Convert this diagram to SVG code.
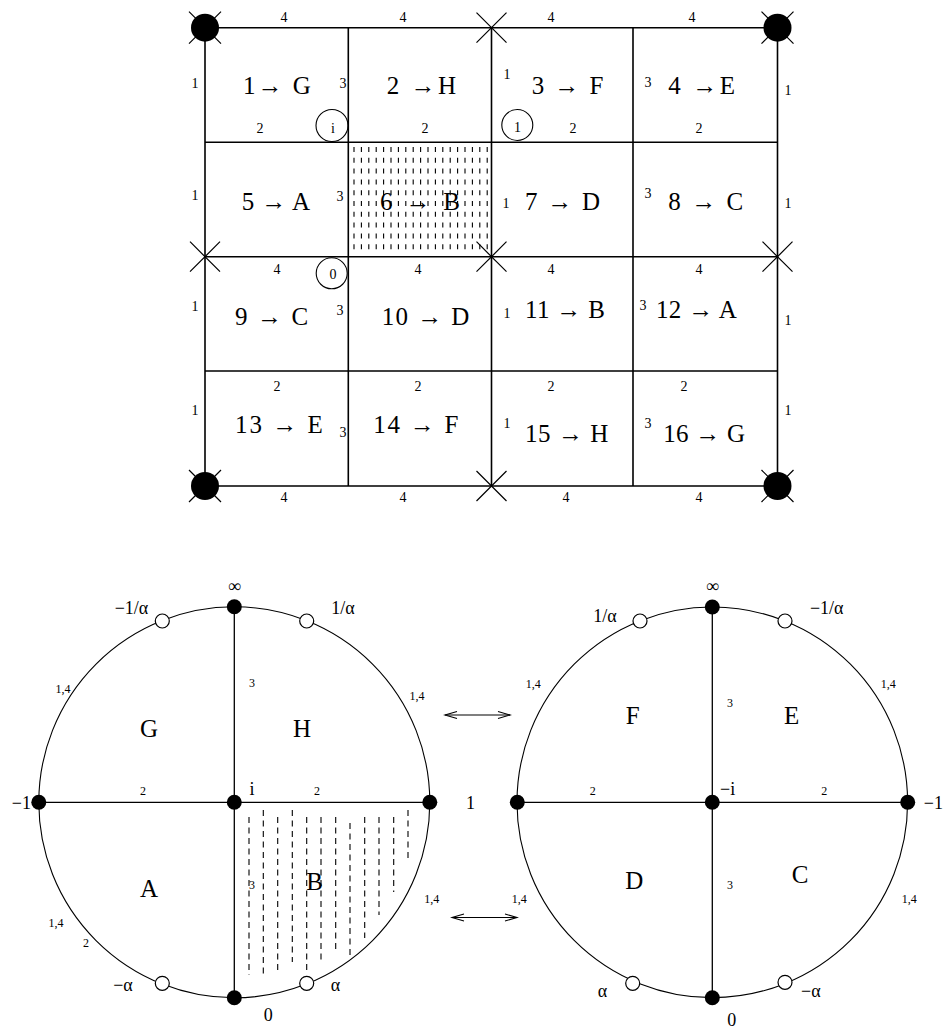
<svg xmlns="http://www.w3.org/2000/svg" xmlns:xlink="http://www.w3.org/1999/xlink" width="945" height="1028" viewBox="0 0 945 1028">
<style>
.ln{stroke:#000;stroke-width:1.6;fill:none}
.xl{stroke:#000;stroke-width:1.2;fill:none}
.cl{stroke:#000;stroke-width:1.1;fill:none}
.rl{stroke:#000;stroke-width:1.3;fill:none}
.hatch{stroke:#000;stroke-width:1.1;fill:none;stroke-dasharray:5 5.8}
.hatch2{stroke:#000;stroke-width:1.1;fill:none;stroke-dasharray:6 4.5}
.big{font-family:"Liberation Serif","Times New Roman",serif;font-size:25px;fill:#000}
.sm{font-family:"Liberation Serif","Times New Roman",serif;font-size:14px;text-anchor:middle;fill:#000}
.md{font-family:"Liberation Serif","Times New Roman",serif;font-size:18px;text-anchor:middle;fill:#000}
.ti{font-family:"Liberation Serif","Times New Roman",serif;font-size:12px;text-anchor:middle;fill:#000}
.lt{font-family:"Liberation Serif","Times New Roman",serif;font-size:25px;text-anchor:middle;fill:#000}
.open{fill:#fff;stroke:#000;stroke-width:1.2}
.dot{fill:#000}
.ring{fill:none;stroke:#000;stroke-width:1.1}
.arr{stroke:#000;stroke-width:1.1;fill:none;marker-start:url(#ah);marker-end:url(#ah)}
</style>
<defs>
<path id="xm" d="M-15,-15L15,15M-15,15L15,-15" class="xl"/>
<g id="corner"><path d="M-16,-16L16,16M-16,16L16,-16" class="xl"/><circle r="14" class="dot"/></g>
<marker id="ah" viewBox="-14 -5 16 10" refX="0" refY="0" markerWidth="16" markerHeight="10" markerUnits="userSpaceOnUse" orient="auto-start-reverse">
<path d="M-12,-3.5L0,0L-12,3.5" fill="none" stroke="#000" stroke-width="1.1"/>
</marker>
</defs>

<g id="grid">
<g id="hatch-6">
<path class="hatch" d="M354,147V252M361.4,147V252M368.8,147V252M376.2,147V252M383.6,147V252M391,147V252M398.4,147V252M405.8,147V252M413.2,147V252M420.6,147V252M428,147V252M435.4,147V252M442.8,147V252M450.2,147V252M457.6,147V252M465,147V252M472.4,147V252M479.8,147V252M487.2,147V252"/>
</g>
<g id="grid-lines">
<path class="ln" d="M205,27.7H777.5M205,142.3H777.5M205,256.7H777.5M205,371H777.5M205,486H777.5"/>
<path class="ln" d="M205,27.7V486M348.3,27.7V486M491.5,27.7V486M633,27.7V486M777.5,27.7V486"/>
</g>
<g id="vertex-marks">
<use xlink:href="#corner" x="205" y="27.7"/>
<use xlink:href="#corner" x="777.5" y="27.7"/>
<use xlink:href="#corner" x="205" y="486"/>
<use xlink:href="#corner" x="777.5" y="486"/>
<use xlink:href="#xm" x="491.5" y="27.7"/>
<use xlink:href="#xm" x="205" y="256.7"/>
<use xlink:href="#xm" x="491.5" y="256.7"/>
<use xlink:href="#xm" x="777.5" y="256.7"/>
<use xlink:href="#xm" x="491.5" y="486"/>
</g>
<g id="edge-labels">
<text class="sm" x="284" y="22">4</text><text class="sm" x="403" y="22">4</text><text class="sm" x="551" y="22">4</text><text class="sm" x="692" y="22">4</text>
<text class="sm" x="195" y="88">1</text><text class="sm" x="343" y="88">3</text><text class="sm" x="507" y="79">1</text><text class="sm" x="648" y="87">3</text><text class="sm" x="788" y="95">1</text>
<text class="sm" x="260" y="133">2</text><text class="sm" x="425" y="133">2</text><text class="sm" x="573" y="133">2</text><text class="sm" x="699" y="133">2</text>
<text class="sm" x="195" y="200">1</text><text class="sm" x="340" y="201">3</text><text class="sm" x="506" y="208">1</text><text class="sm" x="648" y="198">3</text><text class="sm" x="788" y="208">1</text>
<text class="sm" x="277" y="274">4</text><text class="sm" x="418" y="274">4</text><text class="sm" x="551" y="274">4</text><text class="sm" x="699" y="274">4</text>
<text class="sm" x="195" y="311">1</text><text class="sm" x="340" y="315">3</text><text class="sm" x="507" y="318">1</text><text class="sm" x="643" y="310">3</text><text class="sm" x="788" y="325">1</text>
<text class="sm" x="277" y="391">2</text><text class="sm" x="418" y="391">2</text><text class="sm" x="551" y="391">2</text><text class="sm" x="684" y="391">2</text>
<text class="sm" x="195" y="415">1</text><text class="sm" x="343" y="437">3</text><text class="sm" x="507" y="428">1</text><text class="sm" x="648" y="428">3</text><text class="sm" x="788" y="415">1</text>
<text class="sm" x="284" y="502">4</text><text class="sm" x="403" y="502">4</text><text class="sm" x="566" y="502">4</text><text class="sm" x="699" y="502">4</text>
</g>
<g id="point-i"><circle class="ring" cx="332" cy="125.5" r="16"/><text class="sm" x="333" y="133">i</text></g>
<g id="point-1"><circle class="ring" cx="517.3" cy="125" r="15.5"/><text class="sm" x="517.5" y="132">1</text></g>
<g id="point-0"><circle class="ring" cx="331.7" cy="273.3" r="15.5"/><text class="sm" x="333" y="279">0</text></g>
<g id="cells">
<text id="cell-1" class="big" x="243" y="94" textLength="67.7">1→ G</text>
<text id="cell-2" class="big" x="386.7" y="94" textLength="69.3">2 →H</text>
<text id="cell-3" class="big" x="531.7" y="94" textLength="71.6">3 → F</text>
<text id="cell-4" class="big" x="668.3" y="94" textLength="66.7">4 →E</text>
<text id="cell-5" class="big" x="241.7" y="209.5" textLength="68.3">5 → A</text>
<text id="cell-6" class="big" x="380" y="209.5" textLength="80">6 → B</text>
<text id="cell-7" class="big" x="525" y="209.5" textLength="75">7 → D</text>
<text id="cell-8" class="big" x="668.3" y="209.5" textLength="75">8 → C</text>
<text id="cell-9" class="big" x="235" y="325" textLength="73.3">9 → C</text>
<text id="cell-10" class="big" x="381.7" y="325" textLength="87.6">10 → D</text>
<text id="cell-11" class="big" x="525" y="318" textLength="80">11 → B</text>
<text id="cell-12" class="big" x="656" y="318" textLength="80.7">12 → A</text>
<text id="cell-13" class="big" x="235" y="433.3" textLength="87.7">13 → E</text>
<text id="cell-14" class="big" x="373.3" y="433.3" textLength="85">14 → F</text>
<text id="cell-15" class="big" x="525" y="441.5" textLength="83.3">15 → H</text>
<text id="cell-16" class="big" x="663.3" y="441.5" textLength="81.7">16 → G</text>
</g>
</g>

<g id="disk-left">
<path class="hatch2" d="M249,817V975M263.3,810V975M277.7,817V973M292.3,810V962M306.7,817V973M321,817V962M335.7,817V952M350,823V955M364.7,817V938M379,817V915M393.7,817V892M408,810V862"/>
<circle class="cl" cx="234.3" cy="802.3" r="195.5"/>
<path class="rl" d="M234.3,606.8V997.8M38.8,802.3H429.8"/>
<circle class="dot" cx="234.3" cy="606.8" r="7.5"/>
<circle class="dot" cx="38.8" cy="802.3" r="7.5"/>
<circle class="dot" cx="234.3" cy="802.3" r="7.5"/>
<circle class="dot" cx="429.8" cy="802.3" r="7.5"/>
<circle class="dot" cx="234.3" cy="997.8" r="7.5"/>
<circle class="open" cx="162.3" cy="621" r="7"/>
<circle class="open" cx="306.7" cy="621" r="7"/>
<circle class="open" cx="162.3" cy="983.3" r="7"/>
<circle class="open" cx="306.7" cy="983.3" r="7"/>
<text class="md" x="234.3" y="592">∞</text>
<text class="md" x="131.5" y="614">−1/α</text>
<text class="md" x="343" y="614">1/α</text>
<text class="ti" x="63" y="693">1,4</text>
<text class="ti" x="252" y="687">3</text>
<text class="ti" x="417" y="700">1,4</text>
<text class="lt" x="149" y="737">G</text>
<text class="lt" x="302" y="737">H</text>
<text class="ti" x="143" y="795">2</text>
<text class="md" x="252" y="795">i</text>
<text class="ti" x="317" y="795">2</text>
<text class="md" x="31" y="809" style="text-anchor:end">−1</text>
<text class="md" x="470.5" y="809">1</text>
<text class="lt" x="149" y="897">A</text>
<text class="lt" x="314.7" y="889.5">B</text>
<text class="ti" x="252" y="889">3</text>
<text class="ti" x="431.7" y="903">1,4</text>
<text class="ti" x="56" y="927">1,4</text>
<text class="ti" x="86" y="947">2</text>
<text class="md" x="123" y="991">−α</text>
<text class="md" x="335.5" y="991">α</text>
<text class="md" x="268.3" y="1020.5">0</text>
</g>

<g id="disk-right">
<circle class="cl" cx="712.3" cy="802.3" r="195.3"/>
<path class="rl" d="M712.3,607V997.6M517,802.3H907.6"/>
<circle class="dot" cx="712.3" cy="607" r="7.5"/>
<circle class="dot" cx="517.3" cy="802.3" r="7.5"/>
<circle class="dot" cx="712.3" cy="802.3" r="7.5"/>
<circle class="dot" cx="907.7" cy="802.3" r="7.5"/>
<circle class="dot" cx="712.3" cy="997.7" r="7.5"/>
<circle class="open" cx="640" cy="621" r="7"/>
<circle class="open" cx="785" cy="621" r="7"/>
<circle class="open" cx="632.7" cy="983.3" r="7"/>
<circle class="open" cx="785" cy="982.3" r="7"/>
<text class="md" x="712.3" y="592">∞</text>
<text class="md" x="605" y="622">1/α</text>
<text class="md" x="826.7" y="614">−1/α</text>
<text class="ti" x="533.3" y="688">1,4</text>
<text class="ti" x="730" y="707">3</text>
<text class="ti" x="888.3" y="688">1,4</text>
<text class="lt" x="632.7" y="724">F</text>
<text class="lt" x="791.7" y="724">E</text>
<text class="ti" x="592.7" y="795">2</text>
<text class="md" x="727.7" y="795">−i</text>
<text class="ti" x="824.3" y="795">2</text>
<text class="md" x="943" y="809" style="text-anchor:end">−1</text>
<text class="lt" x="634.3" y="889.3">D</text>
<text class="lt" x="800" y="882.7">C</text>
<text class="ti" x="730" y="889">3</text>
<text class="ti" x="519.3" y="903">1,4</text>
<text class="ti" x="909.3" y="903">1,4</text>
<text class="md" x="602.5" y="997">α</text>
<text class="md" x="810.8" y="997">−α</text>
<text class="md" x="731.7" y="1026">0</text>
</g>

<g id="connectors">
<path class="arr" d="M445,715H510"/>
<path class="arr" d="M452,917.5H517"/>
</g>
</svg>
